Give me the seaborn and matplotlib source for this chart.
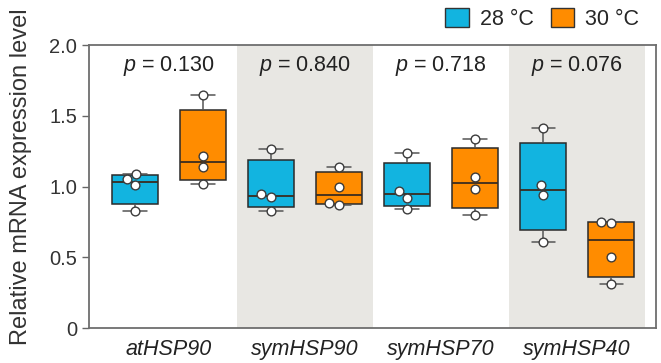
import numpy as np
import pandas as pd
import matplotlib
matplotlib.use("Agg")
import matplotlib.pyplot as plt
from matplotlib.patches import Patch
import seaborn as sns

# genes, temperatures and p values shown in the figure
genes = ["atHSP90", "symHSP90", "symHSP70", "symHSP40"]
temps = ["28 °C", "30 °C"]
p_values = ["0.130", "0.840", "0.718", "0.076"]

# relative mRNA expression, 4 replicates each
at90_28 = [0.83, 1.01, 1.055, 1.09]
at90_30 = [1.015, 1.135, 1.215, 1.645]
sym90_28 = [0.83, 0.925, 0.945, 1.265]
sym90_30 = [0.87, 0.885, 1.0, 1.135]
sym70_28 = [0.84, 0.92, 0.97, 1.235]
sym70_30 = [0.80, 0.985, 1.07, 1.335]
sym40_28 = [0.61, 0.94, 1.01, 1.41]
sym40_30 = [0.31, 0.505, 0.74, 0.75]

values = [at90_28, at90_30, sym90_28, sym90_30,
          sym70_28, sym70_30, sym40_28, sym40_30]

colors = {"28 °C": "#12b4e0", "30 °C": "#ff8c00"}

# long table of points, one slot per gene x temperature
rows = []
groups = []
for i, g in enumerate(genes):
    for j, t in enumerate(temps):
        key = g + " " + t
        groups.append(key)
        for v in values[i * 2 + j]:
            rows.append({"group": key, "gene": g, "temp": t, "value": v})
pts = pd.DataFrame(rows)

# the original boxes use type-6 quartiles; feed the 5 numbers to seaborn
box_rows = []
for key, d in pts.groupby("group", sort=False):
    q = np.percentile(d["value"], [0, 25, 50, 75, 100], method="weibull")
    for v in q:
        box_rows.append({"group": key, "temp": d["temp"].iloc[0], "value": v})
boxes = pd.DataFrame(box_rows)

sns.set_style("ticks")
plt.rcParams["font.family"] = ["Liberation Sans", "DejaVu Sans"]
plt.rcParams["mathtext.fontset"] = "custom"
plt.rcParams["mathtext.it"] = "Liberation Sans:italic"
plt.rcParams["mathtext.rm"] = "Liberation Sans"

fig, ax = plt.subplots(figsize=(6.61, 3.63), dpi=100)
fig.subplots_adjust(left=0.1346, right=0.9924, bottom=0.0964, top=0.876)

n = len(groups)
left, right = -0.676, n - 1 + 0.66
# alternating shaded gene panels
for i in range(len(genes)):
    if i % 2 == 1:
        ax.axvspan(2 * i - 0.5, min(2 * i + 1.5, right), color="#e8e7e3", lw=0, zorder=0)

sns.boxplot(data=boxes, x="group", y="value", hue="temp", order=groups,
            palette=colors, saturation=1, dodge=False, width=0.68, whis=(0, 100),
            showfliers=False, linecolor="#2a2a2a", linewidth=1.1,
            medianprops={"color": "#3a2c20", "linewidth": 1.3},
            whiskerprops={"color": "#555555"}, capprops={"color": "#555555"},
            legend=False, ax=ax)

sns.swarmplot(data=pts, x="group", y="value", order=groups, color="white",
              edgecolor="#3c3c3c", linewidth=1.0, size=6.3, ax=ax, zorder=4)

for i, p in enumerate(p_values):
    ax.text(2 * i + 0.5, 1.85, r"$\it{p}$ = " + p, ha="center", va="center",
            fontsize=15.5, color="#222222")

ax.set_xlim(left, right)
ax.set_ylim(0, 2.0)
ax.set_yticks([0, 0.5, 1.0, 1.5, 2.0], ["0", "0.5", "1.0", "1.5", "2.0"])
ax.set_xticks([2 * i + 0.5 for i in range(len(genes))], genes,
              fontstyle="italic", fontsize=15.5)
ax.set_xlabel("")
ax.set_ylabel("Relative mRNA expression level", fontsize=17, color="#333333")
ax.yaxis.set_label_coords(-0.1, 0.535)
ax.tick_params(axis="y", length=5, width=1, color="#666666",
               labelsize=14.5, labelcolor="#333333")
ax.tick_params(axis="x", length=0, pad=8, labelcolor="#222222")
for s in ax.spines.values():
    s.set_color("#6e6e6e")
    s.set_linewidth(1.3)

handles = [Patch(facecolor=colors[t], edgecolor="#333333", linewidth=1) for t in temps]
ax.legend(handles, temps, loc="center right", bbox_to_anchor=(0.967, 0.948),
          bbox_transform=fig.transFigure, ncol=2, frameon=False, fontsize=15.5,
          handlelength=1.1, handleheight=1.0, handletextpad=0.5,
          columnspacing=0.8, borderpad=0, borderaxespad=0)

fig.savefig("out.png", dpi=100)
